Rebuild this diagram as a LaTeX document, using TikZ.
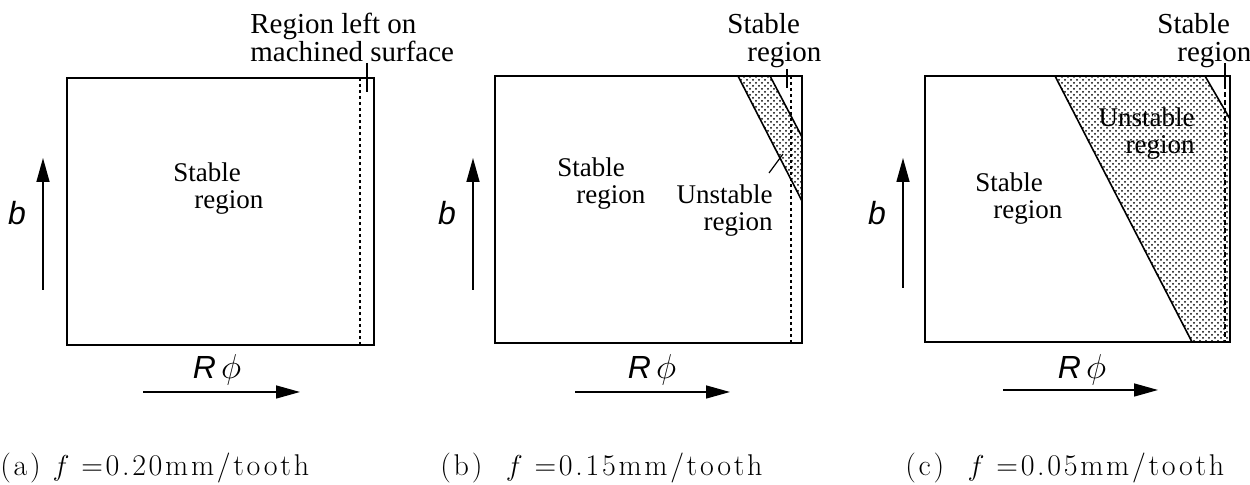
\documentclass[tikz,border=0pt]{standalone}
\usepackage{fontspec}
\setmainfont{Liberation Serif}
\newfontfamily\capfont[LetterSpace=9]{Latin Modern Roman}
\newfontfamily\axfont{Liberation Sans}
\usetikzlibrary{arrows.meta,patterns}
\begin{document}
\begin{tikzpicture}[x=0.5pt,y=-0.5pt,
  frame/.style={line width=0.9pt},
  cutline/.style={line width=0.9pt, dash pattern=on 1.5pt off 1.5pt},
  cutlinec/.style={line width=0.8pt, dash pattern=on 2.5pt off 1.5pt},
  band/.style={pattern=crosshatch dots, pattern color=black, line width=0.8pt},
  leader/.style={line width=0.6pt},
  axarrow/.style={line width=0.75pt, -{Triangle[length=12pt,width=6.5pt]}},
  lbl/.style={font=\fontsize{13.5}{13.5}\selectfont, inner sep=0pt},
  toplbl/.style={font=\fontsize{14.5}{14}\selectfont, inner sep=0pt},
  axlbl/.style={font=\fontsize{16}{18}\selectfont, inner sep=0pt},
  captxt/.style={font=\capfont\fontsize{15}{18}\selectfont, anchor=base west, inner sep=0pt}]

\useasboundingbox[fill=white] (0,0) rectangle (1250,485);

% ---------- panel (a) ----------
\draw[frame] (67,78) rectangle (374,345);
\draw[cutline] (360,78) -- (360,345);
\node[toplbl, anchor=north west, align=left] (rleft) at (250,13) {Region left on\\machined surface};
\coordinate (la1) at (367,63);
\coordinate (la2) at (367,92);
\draw[leader] (la1) -- (la2);
\node[lbl, anchor=north west, align=left] (sa) at (173,162) {Stable\\\hspace*{10.5pt}region};
\coordinate (ba0) at (43,290);
\coordinate (ba1) at (43,158);
\draw[axarrow] (ba0) -- (ba1);
\node[axlbl] (blab) at (17,213) {\axfont\itshape b};
\coordinate (ra0) at (143,392);
\coordinate (ra1) at (300,392);
\draw[axarrow] (ra0) -- (ra1);
\node[axlbl] (rlab) at (217,370) {{\axfont\itshape R}\,$\phi$};
\node[captxt] (capa) at (0,476) {(a) $f$\ =0.20mm/tooth};

% ---------- panel (b) ----------
\fill[band] (738,76) -- (770,76) -- (802,137) -- (802,201) -- cycle;
\draw[band, pattern=none] (738,76) -- (802,201);
\draw[band, pattern=none] (770,76) -- (802,137);
\draw[frame] (495,76) rectangle (802,343);
\draw[cutline] (791,76) -- (791,343);
\node[toplbl, anchor=north west, align=left] (sbt) at (727,13) {Stable\\\hspace*{10pt}region};
\coordinate (lb1) at (787,69);
\coordinate (lb2) at (787,88);
\draw[leader] (lb1) -- (lb2);
\node[lbl, anchor=north west, align=left] (sb) at (557,157) {Stable\\\hspace*{9.5pt}region};
\node[lbl, anchor=north east, align=right] (ub) at (773,184) {Unstable\\region};
\coordinate (lu1) at (769,173);
\coordinate (lu2) at (783,154);
\draw[leader] (lu1) -- (lu2);
\coordinate (bb0) at (473,290);
\coordinate (bb1) at (473,158);
\draw[axarrow] (bb0) -- (bb1);
\node[axlbl] (blbb) at (447,213) {\axfont\itshape b};
\coordinate (rb0) at (575,392);
\coordinate (rb1) at (730,392);
\draw[axarrow] (rb0) -- (rb1);
\node[axlbl] (rlbb) at (652,370) {{\axfont\itshape R}\,$\phi$};
\node[captxt] (capb) at (440,476) {(b)\ \ $f$\ =0.15mm/tooth};

% ---------- panel (c) ----------
\fill[band] (1055,76) -- (1205,76) -- (1230,119) -- (1230,342) -- (1192,342) -- cycle;
\draw[band, pattern=none] (1055,76) -- (1192,342);
\draw[band, pattern=none] (1205,76) -- (1230,119);
\draw[frame] (925,76) rectangle (1230,342);
\draw[cutlinec] (1225,76) -- (1225,342);
\node[toplbl, anchor=north west, align=left] (sct) at (1157,13) {Stable\\\hspace*{10pt}region};
\coordinate (lc1) at (1225,63);
\coordinate (lc2) at (1225,84);
\draw[leader] (lc1) -- (lc2);
\node[lbl, anchor=north west, align=left] (sc) at (975,172) {Stable\\\hspace*{9pt}region};
\node[lbl, anchor=north east, align=right] (uc) at (1195,107) {Unstable\\region};
\coordinate (bc0) at (903,288);
\coordinate (bc1) at (903,158);
\draw[axarrow] (bc0) -- (bc1);
\node[axlbl] (blbc) at (877,213) {\axfont\itshape b};
\coordinate (rc0) at (1003,390);
\coordinate (rc1) at (1158,390);
\draw[axarrow] (rc0) -- (rc1);
\node[axlbl] (rlbc) at (1082,370) {{\axfont\itshape R}\,$\phi$};
\node[captxt] (capc) at (905,476) {(c)\ \ $f$\ =0.05mm/tooth};
\end{tikzpicture}
\end{document}
